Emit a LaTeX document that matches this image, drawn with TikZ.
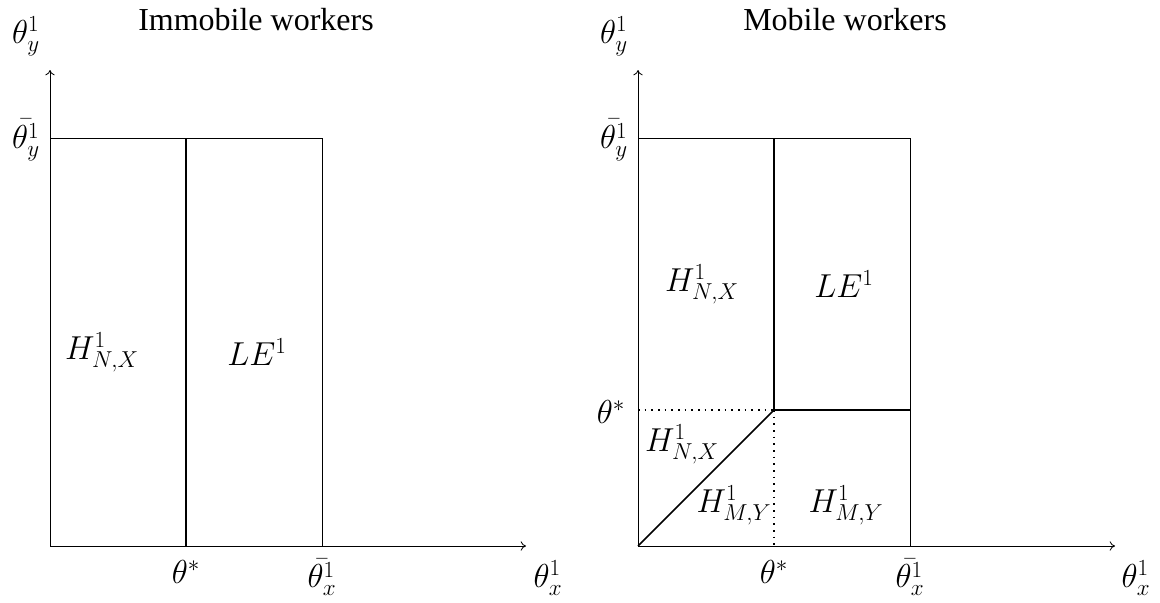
\documentclass[tikz,border=0pt]{standalone}
\usepackage[no-math]{fontspec}
\setmainfont{Liberation Serif}
\DeclareMathSizes{24.88}{24.88}{17.28}{14.4}
\usetikzlibrary{arrows.meta}
\begin{document}
\begin{tikzpicture}[x=0.75pt,y=-0.75pt,
  axis/.style={line width=0.6pt,-{To[length=4pt,width=7pt]}},
  thinline/.style={line width=0.6pt},
  thickline/.style={line width=1.2pt},
  dotline/.style={line width=1.2pt,dash pattern=on 1.2pt off 3.8pt},
  lbl/.style={inner sep=0pt,font=\fontsize{24.88}{30}\selectfont},
  ttl/.style={inner sep=0pt,font=\fontsize{24}{28}\selectfont}]
\useasboundingbox (0,0) rectangle (1160,603);
% ---------- left panel ----------
\coordinate (O1) at (50,546);
\coordinate (Y1) at (50,70);
\coordinate (X1) at (526,546);
\coordinate (T1) at (50,138);
\coordinate (M1t) at (186,138);
\coordinate (M1b) at (186,546);
\coordinate (R1t) at (322,138);
\coordinate (R1b) at (322,546);
\draw[axis] (O1) -- (Y1);
\draw[axis] (O1) -- (X1);
\draw[thinline] (T1) -- (R1t) -- (R1b);
\draw[thickline] (M1t) -- (M1b);
\node[ttl] (title1) at (256,20) {Immobile workers};
\node[lbl] (ty1) at (26,36) {$\theta_y^1$};
\node[lbl] (tby1) at (26,140) {$\bar{\theta_y^1}$};
\node[lbl] (h1) at (102,352) {$H^1_{N,X}$};
\node[lbl] (le1) at (257,352) {$LE^1$};
\node[lbl] (ts1) at (186,572) {$\theta^*$};
\node[lbl] (tbx1) at (322,577) {$\bar{\theta_x^1}$};
\node[lbl] (tx1) at (548,578) {$\theta_x^1$};
% ---------- right panel ----------
\coordinate (O2) at (638,546);
\coordinate (Y2) at (638,70);
\coordinate (X2) at (1115,546);
\coordinate (T2) at (638,138);
\coordinate (M2t) at (774,138);
\coordinate (C2) at (774,410);
\coordinate (R2t) at (910,138);
\coordinate (R2m) at (910,410);
\coordinate (R2b) at (910,546);
\coordinate (L2) at (638,410);
\coordinate (B2) at (774,546);
\draw[axis] (O2) -- (Y2);
\draw[axis] (O2) -- (X2);
\draw[thinline] (T2) -- (R2t) -- (R2b);
\draw[thickline] (M2t) -- (C2) -- (R2m);
\draw[thickline] (O2) -- (C2);
\draw[dotline] (L2) -- (C2);
\draw[dotline] (C2) -- (B2);
\node[ttl] (title2) at (845,20) {Mobile workers};
\node[lbl] (ty2) at (614,36) {$\theta_y^1$};
\node[lbl] (tby2) at (614,140) {$\bar{\theta_y^1}$};
\node[lbl] (h2) at (702,284) {$H^1_{N,X}$};
\node[lbl] (le2) at (844,284) {$LE^1$};
\node[lbl] (ts2l) at (611,412) {$\theta^*$};
\node[lbl] (h3) at (682,444) {$H^1_{N,X}$};
\node[lbl] (h4) at (734,505) {$H^1_{M,Y}$};
\node[lbl] (h5) at (846,505) {$H^1_{M,Y}$};
\node[lbl] (ts2) at (774,572) {$\theta^*$};
\node[lbl] (tbx2) at (910,577) {$\bar{\theta_x^1}$};
\node[lbl] (tx2) at (1136,578) {$\theta_x^1$};
\end{tikzpicture}
\end{document}
